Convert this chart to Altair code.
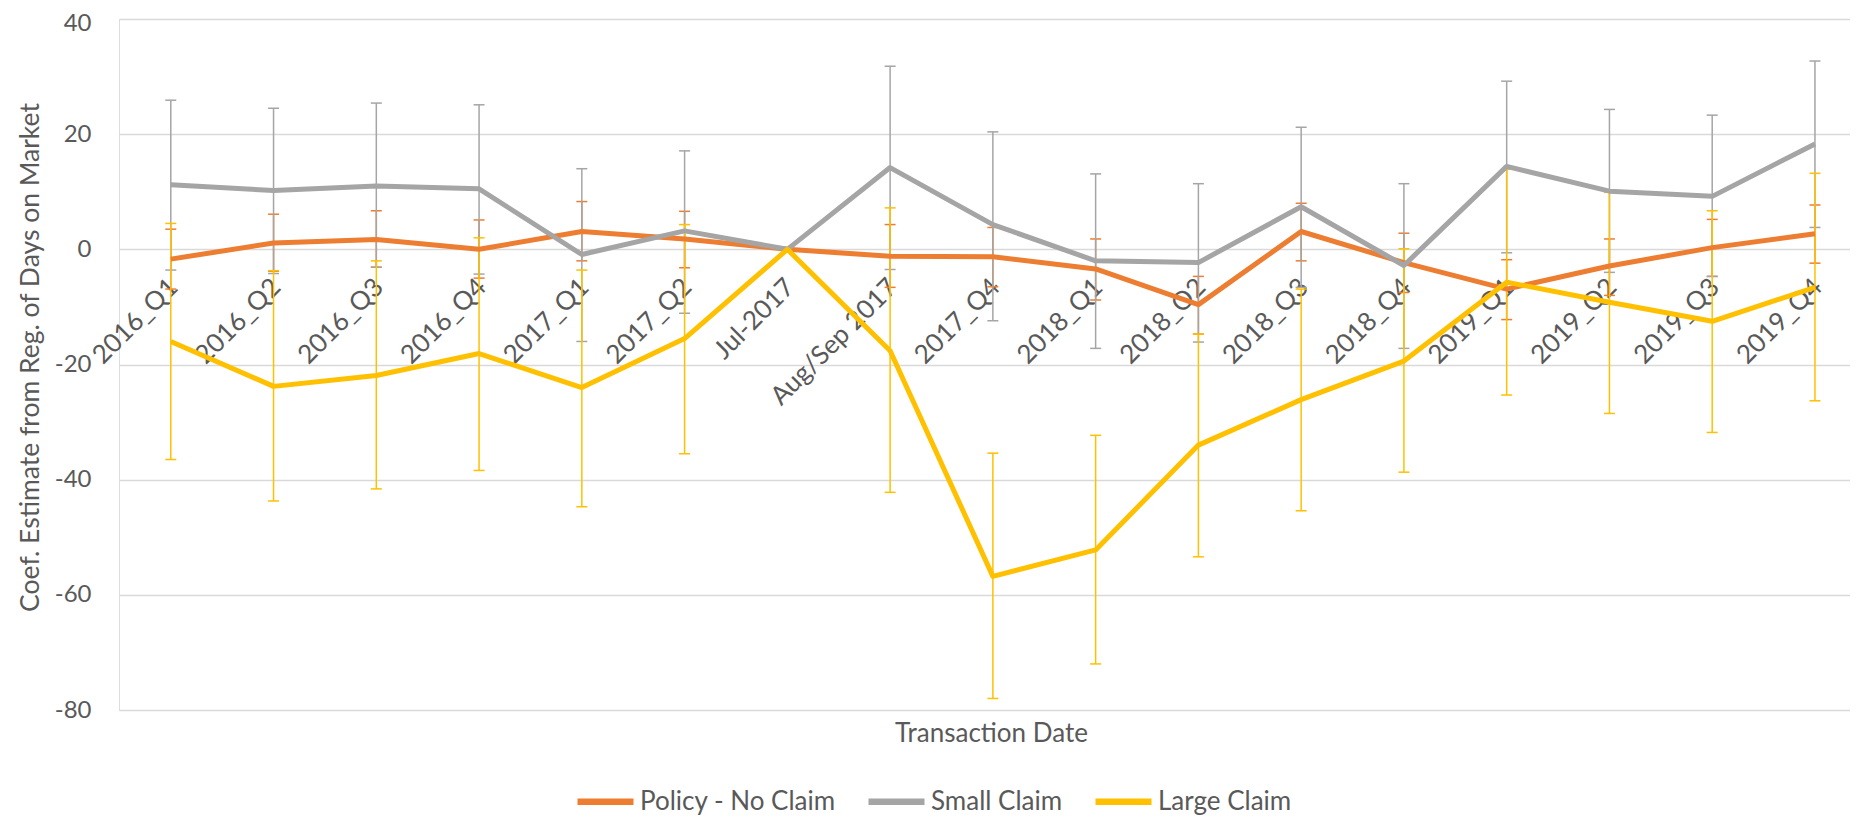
import json
import altair as alt
import pandas as pd

categories = ["2016_Q1", "2016_Q2", "2016_Q3", "2016_Q4", "2017_Q1", "2017_Q2",
              "Jul-2017", "Aug/Sep 2017", "2017_Q4", "2018_Q1", "2018_Q2", "2018_Q3",
              "2018_Q4", "2019_Q1", "2019_Q2", "2019_Q3", "2019_Q4"]

series_names = ["Policy - No Claim", "Small Claim", "Large Claim"]
series_colors = ["#ED7D31", "#A5A5A5", "#FFC000"]

policy_coef = [-1.7, 1.1, 1.7, 0.0, 3.1, 1.8, 0.0, -1.2, -1.3, -3.4, -9.6, 3.1, -2.3, -6.9, -2.9, 0.3, 2.7]
policy_high = [3.5, 6.1, 6.7, 5.1, 8.3, 6.6, None, 4.3, 3.8, 1.8, -4.7, 8.0, 2.8, -1.8, 1.8, 5.2, 7.7]
policy_low = [-6.9, -3.8, -3.1, -5.0, -2.0, -3.2, None, -6.6, -6.5, -8.8, -14.7, -2.0, -7.5, -12.2, -8.0, -4.7, -2.4]

small_coef = [11.2, 10.2, 11.0, 10.5, -0.9, 3.2, 0.0, 14.2, 4.3, -2.0, -2.3, 7.4, -2.8, 14.4, 10.1, 9.2, 18.3]
small_high = [25.9, 24.5, 25.4, 25.1, 14.0, 17.1, None, 31.8, 20.4, 13.1, 11.4, 21.2, 11.4, 29.2, 24.3, 23.3, 32.7]
small_low = [-3.6, -4.2, -3.1, -4.3, -16.0, -11.1, None, -3.5, -12.4, -17.2, -16.1, -6.6, -17.2, -0.6, -4.0, -4.7, 3.8]

large_coef = [-16.0, -23.8, -21.9, -18.1, -24.0, -15.5, 0.0, -17.6, -56.8, -52.2, -34.0, -26.1, -19.4, -5.7, -9.2, -12.5, -6.6]
large_high = [4.5, -3.7, -2.0, 2.0, -3.6, 4.3, None, 7.2, -35.4, -32.3, -14.7, -6.9, 0.1, 13.9, 9.9, 6.7, 13.2]
large_low = [-36.5, -43.7, -41.6, -38.4, -44.7, -35.5, None, -42.2, -78.0, -72.0, -53.4, -45.4, -38.7, -25.3, -28.5, -31.8, -26.3]

y_ticks = [-80, -60, -40, -20, 0, 20, 40]

rows = []
for name, coef, low, high in zip(series_names,
                                 [policy_coef, small_coef, large_coef],
                                 [policy_low, small_low, large_low],
                                 [policy_high, small_high, large_high]):
    for i, cat in enumerate(categories):
        rows.append({"idx": i, "cat": cat, "series": name,
                     "coef": coef[i], "low": low[i], "high": high[i]})
df = pd.DataFrame(rows)

FONT = "Lato"
TXT = "#595959"
TOP = 19          # page y of the plot's top edge
PLOT_H = 691
ZERO_Y = PLOT_H * 40 / 120.0  # pixel row of value 0 inside the plot

x_axis = alt.Axis(values=list(range(len(categories))),
                  labelExpr=json.dumps(categories) + "[datum.value]",
                  labelAngle=-45, labelAlign="right", labelBaseline="middle",
                  labelFont=FONT, labelFontSize=26, labelColor=TXT,
                  labelPadding=33.4, labelOffset=2.5, labelFlush=False, labelOverlap=False,
                  labelBound=False,
                  domain=False, ticks=False, grid=False, offset=-(PLOT_H - ZERO_Y),
                  title="Transaction Date", titleFont=FONT, titleFontSize=26,
                  titleFontWeight="normal", titleColor=TXT,
                  titleX=872, titleY=733 - TOP - ZERO_Y, titleBaseline="middle",
                  titleAlign="center")
x_scale = alt.Scale(domain=[-0.504, 16.341], nice=False, zero=False)

y_axis = alt.Axis(values=y_ticks, labelExpr="'' + datum.value",
                  labelFont=FONT, labelFontSize=24, labelColor=TXT,
                  labelPadding=28,
                  labelOffset={"condition": {"test": "datum.value == 40", "value": 4.5},
                               "value": 0},
                  domain=False, ticks=False,
                  gridColor="#D9D9D9", gridWidth=1.5,
                  title="Coef. Estimate from Reg. of Days on Market",
                  titleFont=FONT, titleFontSize=26.5, titleFontWeight="normal", titleColor=TXT,
                  titleX=-89, titleY=357 - TOP, titleAngle=-90, titleAlign="center",
                  titleBaseline="middle")
y_scale = alt.Scale(domain=[-80, 40], nice=False, zero=False)

color = alt.Color("series:N",
                  scale=alt.Scale(domain=series_names, range=series_colors),
                  legend=alt.Legend(orient="none", legendX=455, legendY=751,
                                    direction="horizontal", title=None,
                                    symbolType="stroke", symbolSize=3136,
                                    symbolStrokeWidth=6.5,
                                    labelFont=FONT, labelFontSize=26, labelColor=TXT,
                                    labelOffset=3, columnPadding=19, labelLimit=500))

base = alt.Chart(df)
X = alt.X("idx:Q", scale=x_scale, axis=x_axis)

layers = []
for name in series_names:
    flt = alt.datum.series == name
    err = base.transform_filter(flt).transform_filter("isValid(datum.low)")
    layers.append(err.mark_rule(strokeWidth=1.5).encode(
        x=X, y=alt.Y("low:Q", scale=y_scale, axis=y_axis), y2="high:Q",
        color=color))
    for f in ["low", "high"]:
        layers.append(err.mark_rule(strokeWidth=1.5, xOffset=-5.5, x2Offset=5.5).encode(
            x=X, x2="idx:Q", y=alt.Y(f + ":Q", scale=y_scale, axis=y_axis),
            color=color))
for name in series_names:
    flt = alt.datum.series == name
    layers.append(base.transform_filter(flt).mark_line(strokeWidth=5, strokeJoin="round").encode(
        x=X, y=alt.Y("coef:Q", scale=y_scale, axis=y_axis), color=color,
        order="idx:Q"))

chart = alt.layer(*layers).properties(
    width=1731, height=PLOT_H,
    padding={"left": 111, "top": TOP - 8, "right": 0, "bottom": 807 - (TOP - 8) - PLOT_H},
    autosize=alt.AutoSizeParams(type="none"),
).configure_view(stroke=None).configure(font=FONT)

chart.save("out.html", embed_options={"renderer": "svg", "actions": False})
